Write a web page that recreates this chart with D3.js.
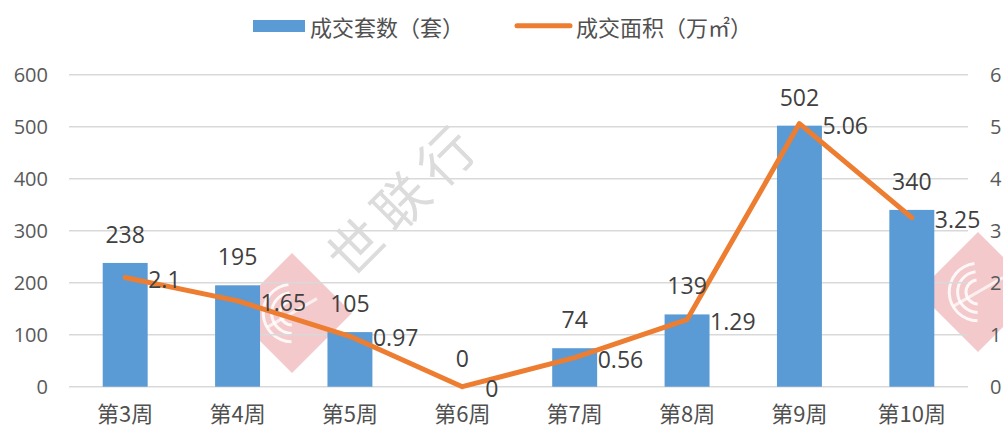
<!DOCTYPE html>
<html><head><meta charset="utf-8">
<script src="https://cdn.jsdelivr.net/npm/d3@7"></script>
<style>
html,body{margin:0;padding:0;background:#fff;}
svg{display:block;}
</style></head>
<body>
<svg id="c" width="1003" height="428"></svg>
<script>
const categories = ["第3周","第4周","第5周","第6周","第7周","第8周","第9周","第10周"];
const units = [238,195,105,0,74,139,502,340];
const area = [2.1,1.65,0.97,0,0.56,1.29,5.06,3.25];
const leftTicks = [0,100,200,300,400,500,600];
const rightTicks = [0,1,2,3,4,5,6];
const seriesNames = ["成交套数（套）","成交面积（万㎡）"];

const W = 1003, H = 428;
const m = {left:69, right:968, top:74.7, bottom:386.7};
const numFont = "'Open Sans','Noto Sans',sans-serif";
const cjkFont = "'Noto Sans CJK SC','Noto Sans',sans-serif";
const svg = d3.select("#c");

// watermark
const wm = svg.append("g");
function diamond(cx, cy, w, h){
  const g = wm.append("g").attr("transform",`translate(${cx},${cy})`);
  g.append("path").attr("d",`M0,${-h/2}L${w/2},0L0,${h/2}L${-w/2},0Z`).attr("fill","#f3c9cb");
  const gg = g.append("g").attr("transform",`rotate(-30)`);
  [0.1,0.17,0.24].forEach(r=>{
    gg.append("path").attr("d",d3.arc()({innerRadius:h*r-1.5,outerRadius:h*r+1.5,startAngle:-2.6,endAngle:0.4}))
     .attr("fill","#fff").attr("opacity",0.85);
  });
  gg.append("rect").attr("x",-h*0.24).attr("y",-1.5).attr("width",h*0.48).attr("height",3).attr("fill","#fff").attr("opacity",0.7);
}
diamond(292,313,120,120);
diamond(978,292,120,120);
wm.append("text").attr("transform","translate(402,196) rotate(-45)")
  .attr("text-anchor","middle").attr("dominant-baseline","central")
  .attr("font-family",cjkFont).attr("font-size",54).attr("fill","#dcdcdc")
  .attr("letter-spacing",10).text("世联行");

const x = d3.scaleBand().domain(categories).range([m.left,m.right]).paddingInner(0.6).paddingOuter(0.3);
const y = d3.scaleLinear().domain([0,600]).range([m.bottom,m.top]);
const y2 = d3.scaleLinear().domain([0,6]).range([m.bottom,m.top]);

// gridlines
svg.append("g").selectAll("line").data(leftTicks).join("line")
  .attr("x1",m.left).attr("x2",m.right).attr("y1",d=>y(d)).attr("y2",d=>y(d))
  .attr("stroke","#d9d9d9").attr("stroke-width",1.5);

// left axis
const la = svg.append("g").attr("transform",`translate(48,0)`)
  .call(d3.axisLeft(y).tickValues(leftTicks).tickSize(0).tickPadding(0));
la.select(".domain").remove();
la.selectAll("text").attr("font-family",numFont).attr("font-size",20).attr("fill","#595959");

// right axis
const ra = svg.append("g").attr("transform",`translate(990,0)`)
  .call(d3.axisRight(y2).tickValues(rightTicks).tickSize(0).tickPadding(0).tickFormat(d3.format("d")));
ra.select(".domain").remove();
ra.selectAll("text").attr("font-family",numFont).attr("font-size",20).attr("fill","#595959");

// x axis
const xa = svg.append("g").attr("transform",`translate(0,${m.bottom})`)
  .call(d3.axisBottom(x).tickSize(0).tickPadding(20));
xa.select(".domain").remove();
xa.selectAll("text").attr("font-family",cjkFont).attr("font-size",22).attr("fill","#505050");

// bars
svg.append("g").selectAll("rect").data(units).join("rect")
  .attr("x",(d,i)=>x(categories[i])).attr("width",x.bandwidth())
  .attr("y",d=>y(d)).attr("height",d=>y(0)-y(d)).attr("fill","#5b9bd5");

// line
const cx = i => x(categories[i]) + x.bandwidth()/2;
svg.append("path").datum(area)
  .attr("d",d3.line().x((d,i)=>cx(i)).y(d=>y2(d)))
  .attr("fill","none").attr("stroke","#ed7d31").attr("stroke-width",5).attr("stroke-linejoin","round").attr("stroke-linecap","round");

// bar labels
svg.append("g").selectAll("text").data(units).join("text")
  .attr("x",(d,i)=>cx(i)).attr("y",d=>y(d)-29)
  .attr("text-anchor","middle").attr("dominant-baseline","central")
  .attr("font-family",numFont).attr("font-size",23).attr("fill","#404040").text(d=>d);

// line labels
svg.append("g").selectAll("text").data(area).join("text")
  .attr("x",(d,i)=>cx(i)+23).attr("y",d=>y2(d)+1)
  .attr("text-anchor","start").attr("dominant-baseline","central")
  .attr("font-family",numFont).attr("font-size",23).attr("fill","#404040").text(d=>d);

// legend
const lg = svg.append("g");
lg.append("rect").attr("x",253).attr("y",20).attr("width",52).attr("height",12).attr("fill","#5b9bd5");
lg.append("text").attr("x",310).attr("y",26).attr("dominant-baseline","central")
  .attr("font-family",cjkFont).attr("font-size",22).attr("fill","#505050").text(seriesNames[0]);
lg.append("line").attr("x1",517).attr("x2",570).attr("y1",25.7).attr("y2",25.7)
  .attr("stroke","#ed7d31").attr("stroke-width",5).attr("stroke-linecap","round");
lg.append("text").attr("x",576).attr("y",26).attr("dominant-baseline","central")
  .attr("font-family",cjkFont).attr("font-size",22).attr("fill","#505050").text(seriesNames[1]);
</script>
</body></html>
